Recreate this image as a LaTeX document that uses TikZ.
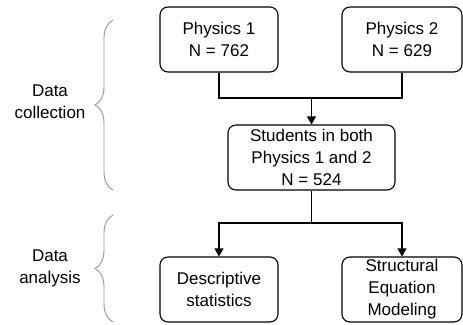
\documentclass[tikz,border=0pt]{standalone}
\usepackage{fontspec}
\setmainfont{Liberation Sans}
\usepackage{xcolor}
\usetikzlibrary{arrows.meta, decorations.pathreplacing}

\begin{document}
\begin{tikzpicture}[x=1pt,y=-1pt,>={Triangle[length=8pt,width=9pt]},
      line width=1.1pt,
      main node/.style={draw,rounded corners=8pt,minimum height=65pt,align=center,
        inner sep=2pt,font=\fontsize{17}{22}\selectfont},
      other node/.style={align=center,font=\fontsize{17}{22}\selectfont},
      group brace/.style={decorate,draw=gray!85,line width=0.9pt,
        decoration={brace,amplitude=18pt}}]
    \useasboundingbox (0,0) rectangle (463,324);

        \node[main node,minimum width=118pt] (p1) at (219,39.5) {Physics 1\\N = 762};
        \node[main node,minimum width=120pt] (p2) at (402,39.5) {Physics 2\\N = 629};
        \node[main node,minimum width=167pt] (both) at (311.5,157.5) {Students in both\\Physics 1 and 2\\N = 524};
        \node[main node,minimum width=118pt] (desc) at (219,289.5) {Descriptive\\statistics};
        \node[main node,minimum width=120pt] (sem) at (402,289.5) {Structural\\Equation\\Modeling};

        \node[other node] (collect) at (50,102) {Data\\collection};
        \node[other node] (analyse) at (50,268) {Data\\analysis};

        \coordinate (join) at (311.5,98);
        \coordinate (split) at (311.5,223);

        \draw (p1.south) |- (join) -| (p2.south);
        \draw[->] (join) -- (both.north);
        \draw (both.south) -- (split);
        \draw[->] (split) -| (desc.north);
        \draw[->] (split) -| (sem.north);

        \draw[group brace] (113,190) -- (113,20);
        \draw[group brace] (113,322) -- (113,215);
    \end{tikzpicture}
\end{document}
